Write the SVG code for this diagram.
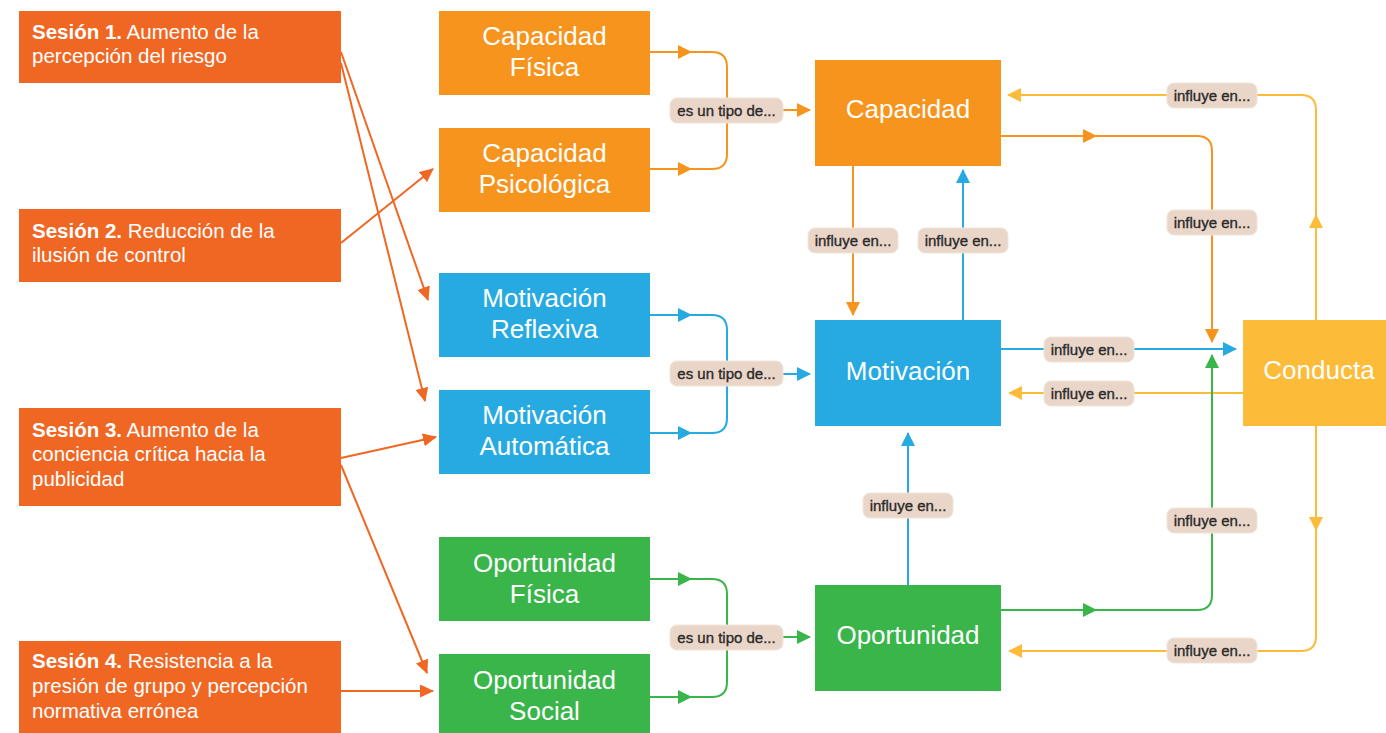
<svg xmlns="http://www.w3.org/2000/svg" width="1386" height="733" viewBox="0 0 1386 733">
<style>
text{font-family:"Liberation Sans",Arial,Helvetica,sans-serif}
.ses{fill:#F06724}
.cap{fill:#F7941D}
.mot{fill:#27AAE1}
.opo{fill:#39B54A}
.con{fill:#FDBB3A}
.nt{fill:#fff;font-size:26px;text-anchor:middle}
.st{fill:#fff;font-size:20.5px}
.st tspan.b{font-weight:bold}
.pill{fill:#EAD6C8;stroke:#F1E3D9;stroke-width:1}
.pt{fill:#2a2a2a;font-size:15px;text-anchor:middle;stroke:#2a2a2a;stroke-width:0.35}
.l{fill:none;stroke-width:2}
.lses{stroke:#F06724}
.lcap{stroke:#F7941D}
.lmot{stroke:#27AAE1}
.lopo{stroke:#39B54A}
.lcon{stroke:#FDBB3A}
</style>
<defs>
<marker id="aSes" markerUnits="userSpaceOnUse" markerWidth="16" markerHeight="14" refX="13" refY="6.5" orient="auto"><path d="M0,0 L14,6.5 L0,13 z" fill="#F06724"/></marker>
<marker id="aCap" markerUnits="userSpaceOnUse" markerWidth="16" markerHeight="16" refX="13" refY="7" orient="auto"><path d="M0,0 L14,7 L0,14 z" fill="#F7941D"/></marker>
<marker id="aMot" markerUnits="userSpaceOnUse" markerWidth="16" markerHeight="16" refX="13" refY="7" orient="auto"><path d="M0,0 L14,7 L0,14 z" fill="#27AAE1"/></marker>
<marker id="aOpo" markerUnits="userSpaceOnUse" markerWidth="16" markerHeight="16" refX="13" refY="7" orient="auto"><path d="M0,0 L14,7 L0,14 z" fill="#39B54A"/></marker>
<marker id="aCon" markerUnits="userSpaceOnUse" markerWidth="16" markerHeight="16" refX="13" refY="7" orient="auto"><path d="M0,0 L14,7 L0,14 z" fill="#FDBB3A"/></marker>
</defs>
<rect width="1386" height="733" fill="#fff"/>

<g id="connectors">
  <line class="l lses" x1="341" y1="52" x2="428" y2="300" marker-end="url(#aSes)"/>
  <line class="l lses" x1="341" y1="63" x2="425" y2="401" marker-end="url(#aSes)"/>
  <line class="l lses" x1="341" y1="243" x2="433" y2="169" marker-end="url(#aSes)"/>
  <line class="l lses" x1="341" y1="458" x2="436" y2="437" marker-end="url(#aSes)"/>
  <line class="l lses" x1="341" y1="465" x2="427" y2="673" marker-end="url(#aSes)"/>
  <line class="l lses" x1="341" y1="691" x2="433" y2="691" marker-end="url(#aSes)"/>

  <path class="l lcap" d="M650,52 H712 Q727,52 727,67 V154 Q727,169 712,169 H650"/>
  <polygon class="cap" points="678,45 692,52 678,59"/>
  <polygon class="cap" points="678,162 692,169 678,176"/>
  <line class="l lcap" x1="783" y1="110" x2="810" y2="110" marker-end="url(#aCap)"/>

  <path class="l lmot" d="M650,315 H712 Q727,315 727,330 V418 Q727,433 712,433 H650"/>
  <polygon class="mot" points="678,308 692,315 678,322"/>
  <polygon class="mot" points="678,426 692,433 678,440"/>
  <line class="l lmot" x1="783" y1="374" x2="810" y2="374" marker-end="url(#aMot)"/>

  <path class="l lopo" d="M650,579 H712 Q727,579 727,594 V682 Q727,697 712,697 H650"/>
  <polygon class="opo" points="678,572 692,579 678,586"/>
  <polygon class="opo" points="678,690 692,697 678,704"/>
  <line class="l lopo" x1="783" y1="637" x2="810" y2="637" marker-end="url(#aOpo)"/>

  <line class="l lcap" x1="853" y1="166" x2="853" y2="315" marker-end="url(#aCap)"/>
  <line class="l lmot" x1="963" y1="320" x2="963" y2="170" marker-end="url(#aMot)"/>
  <line class="l lmot" x1="908" y1="585" x2="908" y2="433" marker-end="url(#aMot)"/>

  <path class="l lcap" d="M1001,136 H1197 Q1212,136 1212,151 V342" marker-end="url(#aCap)"/>
  <polygon class="cap" points="1083,129 1097,136 1083,143"/>
  <path class="l lcon" d="M1316,320 V110 Q1316,95 1301,95 H1008" marker-end="url(#aCon)"/>
  <polygon class="con" points="1309,228 1316,214 1323,228"/>
  <line class="l lmot" x1="1001" y1="349" x2="1236" y2="349" marker-end="url(#aMot)"/>
  <line class="l lcon" x1="1243" y1="393" x2="1009" y2="393" marker-end="url(#aCon)"/>
  <path class="l lopo" d="M1001,610 H1197 Q1212,610 1212,595 V355" marker-end="url(#aOpo)"/>
  <polygon class="opo" points="1083,603 1097,610 1083,617"/>
  <path class="l lcon" d="M1316,426 V636 Q1316,651 1301,651 H1009" marker-end="url(#aCon)"/>
  <polygon class="con" points="1309,517 1316,531 1323,517"/>

  <g>
    <rect class="pill" x="670" y="98" width="113" height="25" rx="7"/><text class="pt" x="726.5" y="115.5">es un tipo de...</text>
    <rect class="pill" x="670" y="361" width="113" height="25" rx="7"/><text class="pt" x="726.5" y="378.5">es un tipo de...</text>
    <rect class="pill" x="670" y="625" width="113" height="25" rx="7"/><text class="pt" x="726.5" y="642.5">es un tipo de...</text>
    <rect class="pill" x="808" y="228" width="90" height="25" rx="7"/><text class="pt" x="853" y="245.5">influye en...</text>
    <rect class="pill" x="918" y="228" width="90" height="25" rx="7"/><text class="pt" x="963" y="245.5">influye en...</text>
    <rect class="pill" x="863" y="493" width="90" height="25" rx="7"/><text class="pt" x="908" y="510.5">influye en...</text>
    <rect class="pill" x="1167" y="83" width="90" height="25" rx="7"/><text class="pt" x="1212" y="100.5">influye en...</text>
    <rect class="pill" x="1167" y="210" width="90" height="25" rx="7"/><text class="pt" x="1212" y="227.5">influye en...</text>
    <rect class="pill" x="1044" y="337" width="90" height="25" rx="7"/><text class="pt" x="1089" y="354.5">influye en...</text>
    <rect class="pill" x="1044" y="381" width="90" height="25" rx="7"/><text class="pt" x="1089" y="398.5">influye en...</text>
    <rect class="pill" x="1167" y="508" width="90" height="25" rx="7"/><text class="pt" x="1212" y="525.5">influye en...</text>
    <rect class="pill" x="1167" y="638" width="90" height="25" rx="7"/><text class="pt" x="1212" y="655.5">influye en...</text>
  </g>
</g>

<g id="sesion1"><rect class="ses" x="19" y="11" width="322" height="72"/><text class="st" x="32" y="39"><tspan class="b">Sesión 1.</tspan> Aumento de la</text><text class="st" x="32" y="63">percepción del riesgo</text></g>
<g id="sesion2"><rect class="ses" x="19" y="209" width="322" height="73"/><text class="st" x="32" y="238"><tspan class="b">Sesión 2.</tspan> Reducción de la</text><text class="st" x="32" y="262">ilusión de control</text></g>
<g id="sesion3"><rect class="ses" x="19" y="408" width="322" height="98"/><text class="st" x="32" y="437"><tspan class="b">Sesión 3.</tspan> Aumento de la</text><text class="st" x="32" y="461">conciencia crítica hacia la</text><text class="st" x="32" y="486">publicidad</text></g>
<g id="sesion4"><rect class="ses" x="19" y="641" width="322" height="96"/><text class="st" x="32" y="668"><tspan class="b">Sesión 4.</tspan> Resistencia a la</text><text class="st" x="32" y="693">presión de grupo y percepción</text><text class="st" x="32" y="718">normativa errónea</text></g>

<g id="capacidad-fisica"><rect class="cap" x="439" y="11" width="211" height="84"/><text class="nt" x="544.5" y="45">Capacidad</text><text class="nt" x="544.5" y="76">Física</text></g>
<g id="capacidad-psicologica"><rect class="cap" x="439" y="128" width="211" height="84"/><text class="nt" x="544.5" y="162">Capacidad</text><text class="nt" x="544.5" y="193">Psicológica</text></g>
<g id="motivacion-reflexiva"><rect class="mot" x="439" y="273" width="211" height="84"/><text class="nt" x="544.5" y="307">Motivación</text><text class="nt" x="544.5" y="338">Reflexiva</text></g>
<g id="motivacion-automatica"><rect class="mot" x="439" y="390" width="211" height="84"/><text class="nt" x="544.5" y="424">Motivación</text><text class="nt" x="544.5" y="455">Automática</text></g>
<g id="oportunidad-fisica"><rect class="opo" x="439" y="537" width="211" height="84"/><text class="nt" x="544.5" y="572">Oportunidad</text><text class="nt" x="544.5" y="603">Física</text></g>
<g id="oportunidad-social"><rect class="opo" x="439" y="654" width="211" height="84"/><text class="nt" x="544.5" y="689">Oportunidad</text><text class="nt" x="544.5" y="720">Social</text></g>

<g id="capacidad"><rect class="cap" x="815" y="60" width="186" height="106"/><text class="nt" x="908" y="118">Capacidad</text></g>
<g id="motivacion"><rect class="mot" x="815" y="320" width="186" height="106"/><text class="nt" x="908" y="380">Motivación</text></g>
<g id="oportunidad"><rect class="opo" x="815" y="585" width="186" height="106"/><text class="nt" x="908" y="644">Oportunidad</text></g>
<g id="conducta"><rect class="con" x="1243" y="320" width="150" height="106"/><text class="nt" x="1319" y="379">Conducta</text></g>
</svg>
